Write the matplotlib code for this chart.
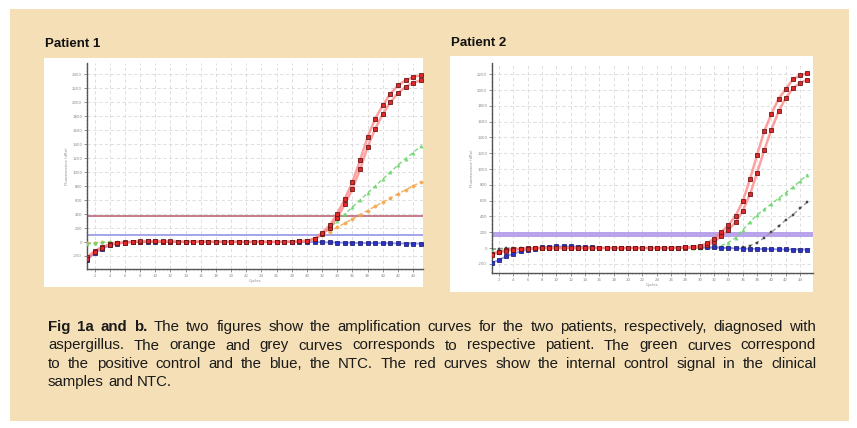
import numpy as np
import matplotlib
matplotlib.use("Agg")
import matplotlib.pyplot as plt

# ---------------- data ----------------
cycles = list(range(1, 46))

p1_red_a = [-240, -140, -80, -40, -20, -8, 5, 8, 10, 10,
            8, 8, 6, 5, 5, 5, 4, 4, 3, 3,
            2, 2, 2, 2, 2, 2, 3, 5, 10, 20,
            48, 133, 238, 405, 620, 858, 1168, 1502, 1764, 1954,
            2121, 2240, 2312, 2360, 2383]
p1_red_b = [-220, -130, -70, -35, -15, -5, 3, 5, 8, 8,
            6, 6, 5, 4, 4, 4, 3, 3, 2, 2,
            2, 2, 2, 2, 2, 2, 3, 4, 8, 15,
            40, 110, 200, 350, 540, 760, 1040, 1360, 1620, 1830,
            2000, 2130, 2220, 2280, 2310]
p1_green = [-30, -15, -5, 0, 0, 0, 0, 0, 0, 0,
            0, 0, 0, 0, 0, 0, 0, 0, 0, 0,
            0, 0, 0, 0, 0, 0, 0, 2, 5, 15,
            50, 110, 200, 300, 400, 500, 600, 700, 800, 900,
            1000, 1100, 1190, 1280, 1370]
p1_orange = [-20, -10, -5, 0, 0, 0, 0, 0, 0, 0,
             0, 0, 0, 0, 0, 0, 0, 0, 0, 0,
             0, 0, 0, 0, 0, 0, 0, 2, 5, 15,
             50, 95, 150, 210, 270, 330, 390, 450, 510, 570,
             630, 690, 745, 800, 858]
p1_blue = [-262, -157, -95, -48, -24, -10, -3, 0, 0, 0,
           0, 0, 0, 0, 0, 0, 0, 0, 0, 0,
           0, 0, 0, 0, 0, 0, 0, 0, 0, 0,
           0, -3, -5, -8, -10, -12, -14, -15, -16, -18,
           -19, -20, -22, -23, -24]
p1_thresh_red = 372
p1_thresh_blue = 100

p2_red_a = [-84, -55, -34, -21, -12, -6, -2, 0, 0, 0,
            0, 0, 0, 0, 0, 0, 0, 0, 0, 0,
            0, 0, 0, 0, 0, 0, 5, 10, 15, 25,
            60, 120, 200, 290, 410, 590, 870, 1180, 1480, 1700,
            1890, 2013, 2135, 2185, 2215]
p2_red_b = [-70, -45, -28, -17, -10, -5, -2, 0, 0, 0,
            0, 0, 0, 0, 0, 0, 0, 0, 0, 0,
            0, 0, 0, 0, 0, 0, 3, 6, 10, 18,
            35, 80, 150, 230, 330, 470, 680, 950, 1240, 1500,
            1730, 1900, 2020, 2090, 2130]
p2_green = [-20, -10, -5, 0, 0, 0, 0, 0, 0, 0,
            0, 0, 0, 0, 0, 0, 0, 0, 0, 0,
            0, 0, 0, 0, 0, 0, 0, 0, 0, 5,
            10, 15, 30, 70, 130, 230, 330, 420, 490, 560,
            630, 700, 770, 850, 930]
p2_grey = [-15, -8, -3, 0, 0, 0, 0, 0, 0, 0,
           0, 0, 0, 0, 0, 0, 0, 0, 0, 0,
           0, 0, 0, 0, 0, 0, 0, 0, 0, 0,
           0, 0, 0, 0, 3, 10, 30, 70, 130, 200,
           275, 355, 420, 505, 580]
p2_blue = [-190, -148, -105, -72, -42, -21, -8, 10, 15, 20,
           20, 20, 18, 15, 10, 5, 0, 0, 0, 0,
           0, 0, 0, 0, 0, 0, 5, 8, 10, 10,
           10, 8, 5, 0, -5, -8, -10, -12, -14, -16,
           -17, -18, -19, -20, -21]
p2_thresh = 177

panel_titles = ["Patient 1", "Patient 2"]
x_label = "Cycles"
y_label = "Fluorescence (dRn)"

caption_lines = [
    [("Fig 1a and b.", "bold"), ("The two figures show the amplification curves for the two patients, respectively, diagnosed with", "normal")],
    [("aspergillus. The orange and grey curves corresponds to respective patient. The green curves correspond", "normal")],
    [("to the positive control and the blue, the NTC. The red curves show the internal control signal in the clinical", "normal")],
    [("samples and NTC.", "normal")],
]

# ---------------- layout ----------------
W, H = 857, 428
fig = plt.figure(figsize=(W / 100, H / 100), dpi=100)
fig.patch.set_facecolor("white")

def rect(x0, y0, x1, y1):
    return [x0 / W, 1 - y1 / H, (x1 - x0) / W, (y1 - y0) / H]

bg = fig.add_axes(rect(10, 9, 849, 421))
bg.set_facecolor("#f5dfb6")
bg.set_xticks([]); bg.set_yticks([])
for s in bg.spines.values():
    s.set_visible(False)

def white_panel(x0, y0, x1, y1):
    a = fig.add_axes(rect(x0, y0, x1, y1))
    a.set_facecolor("white")
    a.set_xticks([]); a.set_yticks([])
    for s in a.spines.values():
        s.set_visible(False)
    return a

white_panel(44, 58, 423, 287)
white_panel(450, 56, 813, 292)

title_font = ["Liberation Sans", "DejaVu Sans"]
fig.text(45 / W, 1 - 44 / H, panel_titles[0], fontsize=9.5, fontweight="bold",
         family=title_font, va="center", ha="left", color="#111111")
fig.text(451 / W, 1 - 43 / H, panel_titles[1], fontsize=9.5, fontweight="bold",
         family=title_font, va="center", ha="left", color="#111111")


def style_axes(ax, ylim, yticks):
    ax.set_facecolor("none")
    ax.set_ylim(*ylim)
    ax.set_yticks(yticks)
    ax.set_yticklabels([str(v) for v in yticks])
    ax.set_xticks(cycles[1::2])
    ax.set_xticklabels([str(c) for c in cycles[1::2]])
    ax.tick_params(axis="both", labelsize=2.8, labelcolor="#8a8a8a", length=2,
                   width=0.5, color="#666666", pad=1.5)
    ax.minorticks_on()
    ax.tick_params(which="minor", length=1, width=0.4, color="#888888")
    for k in ("top", "right"):
        ax.spines[k].set_visible(False)
    for k in ("left", "bottom"):
        ax.spines[k].set_color("#555555")
        ax.spines[k].set_linewidth(1.0)
    ax.grid(True, which="major", color="#d9d9d9", linestyle=(0, (4, 3)), linewidth=0.6)
    ax.set_axisbelow(True)
    ax.set_xlabel(x_label, fontsize=2.8, color="#8a8a8a", labelpad=1)
    ax.set_ylabel(y_label, fontsize=2.8, color="#8a8a8a", labelpad=2)


def red_curve(ax, y):
    ax.plot(cycles, y, color="#ff8080", lw=1.8, alpha=0.75, zorder=3)
    ax.plot(cycles, y, ls="none", marker="s", ms=3.0, mfc="#e02828",
            mec="#6a1818", mew=0.6, zorder=4)

def blue_curve(ax, y):
    ax.plot(cycles, y, color="#6f6fe8", lw=1.3, alpha=0.7, zorder=3)
    ax.plot(cycles, y, ls="none", marker="s", ms=2.8, mfc="#2a33c8",
            mec="#101060", mew=0.5, zorder=4)

def light_curve(ax, y, color, marker):
    ax.plot(cycles, y, color=color, lw=1.0, ls=(0, (3, 2)), alpha=0.9, zorder=3)
    ax.plot(cycles, y, ls="none", marker=marker, ms=2.4, mfc=color,
            mec=color, mew=0.3, alpha=0.9, zorder=3)


# ---- Patient 1 ----
ax1 = fig.add_axes(rect(87, 63, 423, 269))
style_axes(ax1, (-386, 2560), list(range(-200, 2600, 200)))
ax1.set_xlim(1, 45.3)
ax1.axhline(p1_thresh_red, color="#b35a6a", lw=1.1, zorder=2)
ax1.axhline(p1_thresh_blue, color="#8c8ce6", lw=1.1, zorder=2)
light_curve(ax1, p1_orange, "#f4a64a", "o")
light_curve(ax1, p1_green, "#6fd66f", "^")
blue_curve(ax1, p1_blue)
red_curve(ax1, p1_red_b)
red_curve(ax1, p1_red_a)

# ---- Patient 2 ----
ax2 = fig.add_axes(rect(492, 63, 813, 273))
style_axes(ax2, (-316, 2342), list(range(-200, 2400, 200)))
ax2.set_xlim(1, 45.8)
ax2.axhline(p2_thresh, color="#b9a3ea", lw=3.6, zorder=2)
light_curve(ax2, p2_green, "#6fd66f", "^")
ax2.plot(cycles, p2_grey, color="#9a9a9a", lw=1.0, ls=(0, (3, 2)), zorder=3)
ax2.plot(cycles, p2_grey, ls="none", marker="s", ms=1.9, mfc="#555555",
         mec="#333333", mew=0.3, zorder=4)
blue_curve(ax2, p2_blue)
red_curve(ax2, p2_red_b)
red_curve(ax2, p2_red_a)

# ---------------- caption (justified) ----------------
cap_font = ["Liberation Sans", "DejaVu Sans"]
renderer = fig.canvas.get_renderer()
x_left, x_right = 48, 816
line_y = [327, 345.5, 364, 382]
cap_size = 10.8

for i, segs in enumerate(caption_lines):
    words = []
    for txt, wt in segs:
        for w in txt.split(" "):
            words.append((w, wt))
    objs = []
    for w, wt in words:
        t = fig.text(0, 1 - line_y[i] / H, w, fontsize=cap_size, fontweight=wt,
                     family=cap_font, va="center", ha="left", color="#1a1a1a")
        objs.append(t)
    widths = [o.get_window_extent(renderer).width for o in objs]
    justify = i < len(caption_lines) - 1
    space_w = cap_size * 100 / 72 * 0.278
    if justify and len(objs) > 1:
        gap = (x_right - x_left - sum(widths)) / (len(objs) - 1)
    else:
        gap = space_w
    x = x_left
    for o, wdt in zip(objs, widths):
        o.set_x(x / W)
        x += wdt + gap

fig.savefig("out.png", dpi=100, facecolor="white")
